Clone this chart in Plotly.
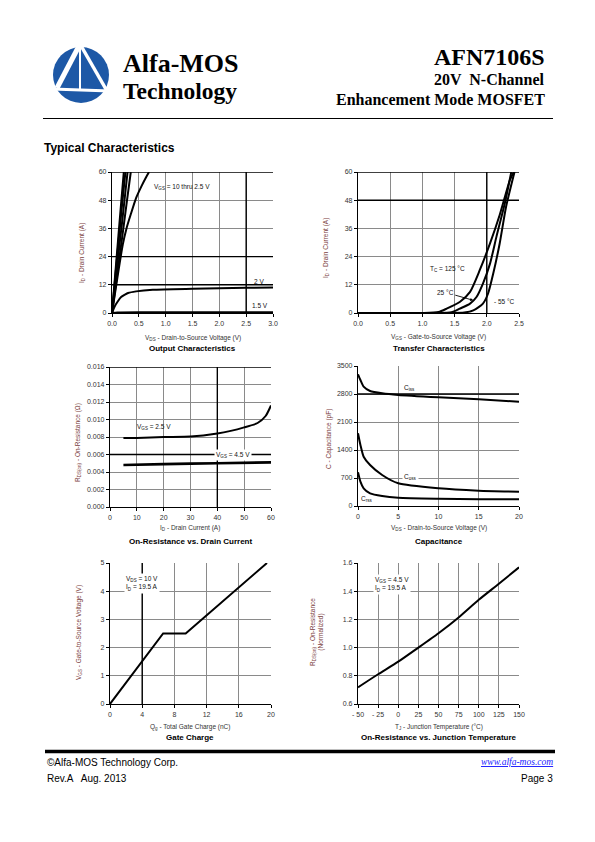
import plotly.graph_objects as go

W, H = 595, 842

# ---------------- data ----------------
# Output characteristics (VDS in V, ID in A)
out_vgs_labels = ["10 V", "4.5 V", "3.5 V", "3 V", "2.5 V", "2 V", "1.5 V"]
out_vds = [
    [0, 0.08, 0.16, 0.22],
    [0, 0.08, 0.17, 0.25],
    [0, 0.09, 0.19, 0.29],
    [0, 0.1, 0.2, 0.28, 0.35],
    [0, 0.1, 0.2, 0.27, 0.35, 0.45, 0.55, 0.64, 0.69],
    [0, 0.05, 0.11, 0.17, 0.24, 0.3, 0.45, 0.76, 1.5, 2.0, 2.5, 3.0],
    [0, 0.1, 0.5, 1.5, 3.0],
]
out_id = [
    [0, 22, 44, 60],
    [0, 20, 42, 60],
    [0, 19, 39, 60],
    [0, 17, 34, 48, 60],
    [0, 15, 29, 36, 42, 49, 54, 58, 60],
    [0, 2.8, 5.0, 6.8, 7.8, 8.5, 9.2, 9.9, 10.3, 10.5, 10.7, 10.9],
    [0, 0.2, 0.3, 0.32, 0.35],
]

# Transfer characteristics (VGS in V, ID in A)
tr_labels = ["125 °C", "25 °C", "-55 °C"]
tr_vgs = [
    [0, 1.0, 1.25, 1.376, 1.58, 1.74, 1.89, 2.05, 2.2, 2.36, 2.42],
    [0, 1.2, 1.45, 1.58, 1.74, 1.84, 1.94, 2.05, 2.15, 2.28, 2.38],
    [0, 1.4, 1.65, 1.79, 1.94, 2.02, 2.1, 2.2, 2.3, 2.43],
]
tr_id = [
    [0, 0, 0.4, 1.85, 4.7, 9.0, 18.2, 29.6, 41.7, 56.7, 60],
    [0, 0, 0.3, 1.85, 4.0, 6.8, 12.5, 21.0, 32.5, 46.7, 60],
    [0, 0, 0.2, 1.1, 4.0, 8.3, 16.8, 29.6, 45.3, 60],
]

# On-resistance vs drain current (ID in A, RDS in ohm)
ron_id_25 = [5, 10, 20, 30, 40, 45, 50, 55, 58, 60]
ron_25 = [0.0079, 0.0079, 0.0080, 0.00805, 0.0084, 0.0087, 0.0091, 0.0096, 0.0104, 0.0116]
ron_id_45 = [5, 20, 40, 60]
ron_45 = [0.0048, 0.0049, 0.0050, 0.0051]

# Capacitance (VDS in V, C in pF)
cap_vds = [0, 0.3, 0.7, 1.5, 3, 5, 10, 15, 20]
cap_ciss = [3292, 3150, 2983, 2875, 2817, 2775, 2717, 2667, 2608]
cap_coss = [1817, 1525, 1233, 1025, 775, 567, 442, 383, 358]
cap_crss = [842, 608, 442, 317, 250, 208, 183, 170, 167]

# Gate charge (Qg in nC, VGS in V)
gc_qg = [0, 6.6, 9.4, 19.5]
gc_vgs = [0, 2.5, 2.5, 5.0]

# On-resistance vs junction temperature
rt_tj = [-50, -25, 0, 25, 50, 75, 100, 125, 150]
rt_rn = [0.718, 0.811, 0.90, 1.0, 1.102, 1.214, 1.339, 1.453, 1.569]
rt_ticks = [-50, -25, 0, 25, 50, 75, 100, 125, 150]
rt_ticktext = ["- 50", "- 25", "0", "25", "50", "75", "100", "125", "150"]

# ---------------- layout helpers ----------------
def fx(px):
    return px / W

def fy(py):
    return 1 - py / H

TICKFONT = dict(family="Liberation Sans Narrow, Liberation Sans, Arial", size=7, color="#333333")
SMALL = "Liberation Sans Narrow, Liberation Sans, Arial"

# pixel boxes (left, top, right, bottom)
boxes = {
    1: (112, 172, 273, 313),
    2: (358, 172, 519, 313),
    3: (110, 367, 271, 507),
    4: (358, 366, 519, 506),
    5: (110, 563, 271, 704),
    6: (358, 563, 519, 704),
}

axis_cfg = {
    1: dict(xr=[0, 3], xd=0.5, xf=".1f", yr=[0, 60], yd=12, yf="d"),
    2: dict(xr=[0, 2.5], xd=0.5, xf=".1f", yr=[0, 60], yd=12, yf="d"),
    3: dict(xr=[0, 60], xd=10, xf="d", yr=[0, 0.016], yd=0.002, yf=".3f"),
    4: dict(xr=[0, 20], xd=5, xf="d", yr=[0, 3500], yd=700, yf="d"),
    5: dict(xr=[0, 20], xd=4, xf="d", yr=[0, 5], yd=1, yf="d"),
    6: dict(xr=[-50, 150], xd=25, xf="d", yr=[0.6, 1.6], yd=0.2, yf=".1f"),
}

# darker grid lines reproduced from the original sheet
hl_h = {1: [12, 24, 60], 2: [48, 60], 3: [0.006, 0.016], 4: [2800], 5: [], 6: []}
hl_v = {1: [2.5], 2: [2.0], 3: [40], 4: [], 5: [4], 6: []}

fig = go.Figure()
layout = dict(
    width=W, height=H, margin=dict(l=0, r=0, t=0, b=0, pad=0, autoexpand=False),
    paper_bgcolor="white", plot_bgcolor="white", showlegend=False,
)
shapes = []
annotations = []

for i, (l, t, r, b) in boxes.items():
    c = axis_cfg[i]
    sfx = "" if i == 1 else str(i)
    common = dict(
        showgrid=True, gridcolor="#8a8a8a", gridwidth=1, zeroline=False, showline=True,
        linecolor="black", linewidth=1.2, ticks="outside", ticklen=3, tickcolor="black",
        tickfont=TICKFONT, fixedrange=True, automargin=False,
    )
    xa = dict(domain=[fx(l), fx(r)], range=c["xr"], dtick=c["xd"], tick0=c["xr"][0],
              tickformat=c["xf"], anchor="y" + sfx, **common)
    ya = dict(domain=[fy(b), fy(t)], range=c["yr"], dtick=c["yd"], tick0=c["yr"][0],
              tickformat=c["yf"], anchor="x" + sfx, **common)
    if i == 6:
        xa.update(tickmode="array", tickvals=rt_ticks, ticktext=rt_ticktext)
    layout["xaxis" + sfx] = xa
    layout["yaxis" + sfx] = ya
    for v in hl_h[i]:
        shapes.append(dict(type="line", xref="x" + sfx + " domain", yref="y" + sfx,
                           x0=0, x1=1, y0=v, y1=v, line=dict(color="black", width=1.4), layer="above"))
    for v in hl_v[i]:
        shapes.append(dict(type="line", xref="x" + sfx, yref="y" + sfx + " domain",
                           x0=v, x1=v, y0=0, y1=1, line=dict(color="black", width=1.4), layer="above"))

def line(x, y, n, w=2.0):
    sfx = "" if n == 1 else str(n)
    fig.add_trace(go.Scatter(x=x, y=y, mode="lines", xaxis="x" + sfx, yaxis="y" + sfx,
                             line=dict(color="black", width=w, shape="spline", smoothing=0.6),
                             hoverinfo="skip"))

for xs, ys in zip(out_vds, out_id):
    line(xs, ys, 1)
for xs, ys in zip(tr_vgs, tr_id):
    line(xs, ys, 2)
line(ron_id_25, ron_25, 3, 2.0)
line(ron_id_45, ron_45, 3, 2.6)
line(cap_vds, cap_ciss, 4)
line(cap_vds, cap_coss, 4)
line(cap_vds, cap_crss, 4)
fig.add_trace(go.Scatter(x=gc_qg, y=gc_vgs, mode="lines", xaxis="x5", yaxis="y5",
                         line=dict(color="black", width=2), hoverinfo="skip"))
line(rt_tj, rt_rn, 6)

# ---- in-plot labels ----
def lab(text, x, y, n, xanchor="left", bg=None, size=6.5, **kw):
    sfx = "" if n == 1 else str(n)
    d = dict(text=text, x=x, y=y, xref="x" + sfx, yref="y" + sfx, showarrow=False,
             xanchor=xanchor, yanchor="middle", font=dict(family=SMALL, size=size, color="#111111"))
    if bg:
        d.update(bgcolor=bg, borderpad=1)
    d.update(kw)
    annotations.append(d)

lab("V<sub>GS</sub> = 10 thru 2.5 V", 0.75, 53.5, 1)
lab("2 V", 2.6, 13.3, 1)
lab("1.5 V", 2.58, 3.4, 1)
lab("T<sub>C</sub> = 125 °C", 1.09, 18.9, 2)
annotations.append(dict(text="25 °C", x=1.79, y=5.4, xref="x2", yref="y2", showarrow=True,
                        ax=-28, ay=-8, arrowhead=2, arrowsize=0.7, arrowwidth=0.9,
                        arrowcolor="black", font=dict(family=SMALL, size=6.5, color="#111111")))
lab("- 55 °C", 2.08, 4.7, 2)
lab("V<sub>GS</sub> = 2.5 V", 9.5, 0.0092, 3)
lab("V<sub>GS</sub> = 4.5 V", 46, 0.006, 3, xanchor="center", bg="white")
lab("C<sub>iss</sub>", 6.36, 2958, 4, xanchor="center")
lab("C<sub>oss</sub>", 6.5, 717, 4, xanchor="center", bg="white")
lab("C<sub>rss</sub>", 1.1, 180, 4, xanchor="center")
lab("V<sub>DS</sub> = 10 V<br>I<sub>D</sub> = 19.5 A", 1.7, 4.27, 5, bg="white", align="left")
lab("V<sub>GS</sub> = 4.5 V<br>I<sub>D</sub> = 19.5 A", -31, 1.45, 6, bg="white", align="left")

# ---- axis titles and chart titles ----
xt = {
    1: ("V<sub>DS</sub> - Drain-to-Source Voltage (V)", 338, "Output Characteristics", 348),
    2: ("V<sub>GS</sub> - Gate-to-Source Voltage (V)", 337, "Transfer Characteristics", 348),
    3: ("I<sub>D</sub> - Drain Current (A)", 528, "On-Resistance vs. Drain Current", 541.5),
    4: ("V<sub>DS</sub> - Drain-to-Source Voltage (V)", 528, "Capacitance", 541.5),
    5: ("Q<sub>g</sub> - Total Gate Charge (nC)", 726.5, "Gate Charge", 737.5),
    6: ("T<sub>J</sub> - Junction Temperature (°C)", 726.5, "On-Resistance vs. Junction Temperature", 737.5),
}
yt = {
    1: ("I<sub>D</sub> - Drain Current (A)", 82, 253),
    2: ("I<sub>D</sub> - Drain Current (A)", 326, 248),
    3: ("R<sub>DS(on)</sub> - On-Resistance (Ω)", 78, 443),
    4: ("C - Capacitance (pF)", 329, 439),
    5: ("V<sub>GS</sub> - Gate-to-Source Voltage (V)", 79, 633),
    6: ("R<sub>DS(on)</sub> - On-Resistance<br>(Normalized)", 317, 632),
}
for i, (l, t, r, b) in boxes.items():
    cx = (l + r) / 2
    a, ay_, tt, ty = xt[i]
    annotations.append(dict(text=a, x=fx(cx), y=fy(ay_), xref="paper", yref="paper", showarrow=False,
                            xanchor="center", yanchor="middle",
                            font=dict(family=SMALL, size=6.5, color="#333333")))
    annotations.append(dict(text="<b>" + tt + "</b>", x=fx(cx), y=fy(ty), xref="paper", yref="paper",
                            showarrow=False, xanchor="center", yanchor="middle",
                            font=dict(family=SMALL, size=8, color="black")))
    s, px_, py_ = yt[i]
    annotations.append(dict(text=s, x=fx(px_), y=fy(py_), xref="paper", yref="paper", showarrow=False,
                            xanchor="center", yanchor="middle", textangle=-90,
                            font=dict(family=SMALL, size=6.5, color="#7a3d3d")))

# ---- page header / footer ----
SERIF = "Liberation Serif, Times New Roman, serif"
SANS = "Liberation Sans, Arial, sans-serif"

def ptext(text, x, y, size, family, xanchor="left", color="black"):
    annotations.append(dict(text=text, x=fx(x), y=fy(y), xref="paper", yref="paper", showarrow=False,
                            xanchor=xanchor, yanchor="middle", font=dict(family=family, size=size, color=color)))

ptext("<b>Alfa-MOS</b>", 121, 63, 26, SERIF)
ptext("<b>Technology</b>", 121, 91, 23.5, SERIF)
ptext("<b>AFN7106S</b>", 547, 57, 24, SERIF, "right")
ptext("<b>20V  N-Channel</b>", 547, 80, 16, SERIF, "right")
ptext("<b>Enhancement Mode MOSFET</b>", 547, 99, 16, SERIF, "right")
ptext("<b>Typical Characteristics</b>", 42, 148, 12, SANS)
ptext("©Alfa-MOS Technology Corp.", 45, 762, 10, SANS)
ptext("Rev.A   Aug. 2013", 45, 778, 10, SANS)
ptext("<i><u>www.alfa-mos.com</u></i>", 555, 762, 9.5, SERIF, "right", "#1a1aff")
ptext("Page 3", 555, 778, 10, SANS, "right")

# header rule and footer bar
shapes.append(dict(type="line", xref="paper", yref="paper", x0=fx(43), x1=fx(553), y0=fy(118.5), y1=fy(118.5),
                   line=dict(color="black", width=1)))
shapes.append(dict(type="line", xref="paper", yref="paper", x0=fx(45), x1=fx(555), y0=fy(751.5), y1=fy(751.5),
                   line=dict(color="black", width=3.5)))

# logo
cxl, cyl, rl = 81, 75, 28
shapes.append(dict(type="circle", xref="paper", yref="paper", x0=fx(cxl - rl), x1=fx(cxl + rl),
                   y0=fy(cyl + rl), y1=fy(cyl - rl), fillcolor="#1d58a6", line=dict(width=0)))
for (x0, y0, x1, y1, w) in [(80, 44, 57, 88, 5), (80, 44, 107, 91, 3.5), (80, 46, 80, 90, 2),
                            (52, 89, 110, 91, 3)]:
    shapes.append(dict(type="line", xref="paper", yref="paper", x0=fx(x0), y0=fy(y0), x1=fx(x1), y1=fy(y1),
                       line=dict(color="white", width=w)))

layout["shapes"] = shapes
layout["annotations"] = annotations
fig.update_layout(**layout)
fig.write_html(
    "out.html",
    config={"displayModeBar": False},
    post_script="document.body.style.margin='0';document.body.style.overflow='hidden';",
)
